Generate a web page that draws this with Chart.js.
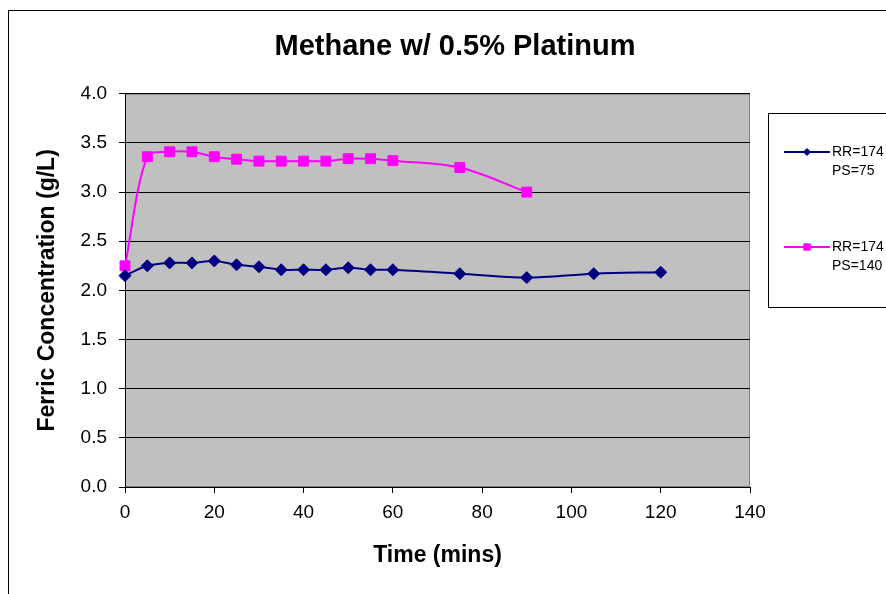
<!DOCTYPE html>
<html>
<head>
<meta charset="utf-8">
<script src="https://cdn.jsdelivr.net/npm/chart.js@4"></script>
<style>
  html, body { margin: 0; padding: 0; background: #fff; }
</style>
</head>
<body>
<canvas id="chart" width="886" height="594"></canvas>
<script>
// data
const timeMins = [0, 5, 10, 15, 20, 25, 30, 35, 40, 45, 50, 55, 60, 75, 90, 105, 120];
const ps75 = [2.15, 2.25, 2.28, 2.28, 2.30, 2.26, 2.24, 2.21, 2.21, 2.21, 2.23, 2.21, 2.21, 2.17, 2.13, 2.17, 2.185];
const ps140 = [2.25, 3.36, 3.41, 3.41, 3.36, 3.335, 3.315, 3.315, 3.315, 3.315, 3.34, 3.34, 3.32, 3.25, 3.00];
const seriesLabels = [['RR=174', 'PS=75'], ['RR=174', 'PS=140']];
const xTicks = [0, 20, 40, 60, 80, 100, 120, 140];
const yTicks = [0, 0.5, 1.0, 1.5, 2.0, 2.5, 3.0, 3.5, 4.0];

const FONT = '"Liberation Sans", Arial, sans-serif';
Chart.defaults.font.family = FONT;
Chart.defaults.color = '#000';

function toPoints(values) {
    return values.map((v, i) => ({ x: timeMins[i], y: v }));
}

// white page, outer chart border, grey plot area
const plotBackground = {
    id: 'plotBackground',
    beforeDraw(chart) {
        const { ctx, chartArea: a } = chart;
        ctx.save();
        ctx.fillStyle = '#fff';
        ctx.fillRect(0, 0, chart.width, chart.height);
        ctx.strokeStyle = '#000';
        ctx.lineWidth = 1;
        ctx.strokeRect(8.5, 10.5, 1000, 1000);
        ctx.fillStyle = '#C0C0C0';
        ctx.fillRect(a.left, a.top, a.right - a.left, a.bottom - a.top);
        ctx.strokeStyle = '#808080';
        ctx.strokeRect(a.left + 0.5, a.top + 0.5, a.right - a.left - 1, a.bottom - a.top - 1);
        ctx.restore();
    }
};

// boxed legend on the right, two-line labels
const boxLegend = {
    id: 'boxLegend',
    afterDraw(chart) {
        const { ctx } = chart;
        const rows = [152, 247];
        ctx.save();
        ctx.strokeStyle = '#000';
        ctx.lineWidth = 1;
        ctx.strokeRect(768.5, 113.5, 200, 194);
        chart.data.datasets.forEach((ds, i) => {
            const y = rows[i];
            ctx.strokeStyle = ds.borderColor;
            ctx.lineWidth = 2;
            ctx.beginPath();
            ctx.moveTo(784, y);
            ctx.lineTo(830, y);
            ctx.stroke();
            ctx.fillStyle = ds.pointBackgroundColor;
            ctx.strokeStyle = ds.pointBorderColor;
            ctx.lineWidth = 1;
            Chart.helpers.drawPoint(ctx, {
                pointStyle: ds.pointStyle,
                radius: ds.pointStyle === 'rect' ? 4.5 : 3.5,
                borderWidth: 1
            }, 807, y);
            ctx.fillStyle = '#000';
            ctx.font = '14px ' + FONT;
            ctx.textAlign = 'left';
            ctx.textBaseline = 'middle';
            ds.label.forEach((line, j) => ctx.fillText(line, 832, y + j * 19.5));
        });
        ctx.restore();
    }
};

const chart = new Chart(document.getElementById('chart'), {
    type: 'line',
    data: {
        datasets: [
            {
                label: seriesLabels[0],
                data: toPoints(ps75),
                borderColor: '#000080',
                borderWidth: 2,
                pointStyle: 'rectRot',
                pointRadius: 6,
                pointBackgroundColor: '#000080',
                pointBorderColor: '#000080',
                pointBorderWidth: 1,
                tension: 0.33
            },
            {
                label: seriesLabels[1],
                data: toPoints(ps140),
                borderColor: '#FF00FF',
                borderWidth: 2,
                pointStyle: 'rect',
                pointRadius: 7,
                pointBackgroundColor: '#FF00FF',
                pointBorderColor: '#FF00FF',
                pointBorderWidth: 1,
                tension: 0.33
            }
        ]
    },
    options: {
        responsive: false,
        animation: false,
        clip: false,
        layout: { padding: { left: 24, right: 0, top: 0, bottom: 0 } },
        plugins: {
            legend: { display: false },
            tooltip: { enabled: false },
            title: {
                display: true,
                text: 'Methane w/ 0.5% Platinum',
                color: '#000',
                font: { size: 29, weight: 'bold' },
                padding: { top: 30, bottom: 29 }
            }
        },
        scales: {
            x: {
                type: 'linear',
                min: 0,
                max: 140,
                afterBuildTicks: (s) => { s.ticks = xTicks.map(v => ({ value: v })); },
                afterFit: (s) => { s.height = 107; },
                grid: { drawOnChartArea: false, tickLength: 6, tickColor: '#000' },
                border: { color: '#000', width: 1 },
                ticks: { font: { size: 19 }, padding: 8, maxRotation: 0 },
                title: {
                    display: true,
                    text: 'Time (mins)',
                    font: { size: 23, weight: 'bold' },
                    padding: { top: 0, bottom: 25 }
                }
            },
            y: {
                min: 0,
                max: 4,
                afterBuildTicks: (s) => { s.ticks = yTicks.map(v => ({ value: v })); },
                afterFit: (s) => { s.width = 101; },
                grid: { color: '#000', lineWidth: 1, tickLength: 6, tickColor: '#000' },
                border: { color: '#000', width: 1 },
                ticks: {
                    font: { size: 19 },
                    padding: 12,
                    callback: (v) => Number(v).toFixed(1)
                },
                title: {
                    display: true,
                    text: 'Ferric Concentration (g/L)',
                    font: { size: 23, weight: 'bold' },
                    padding: { top: 10, bottom: 0 }
                }
            },
            // empty right-hand axis that reserves room for the legend box
            yRight: {
                position: 'right',
                display: true,
                afterFit: (s) => { s.width = 136; },
                grid: { display: false },
                border: { display: false },
                ticks: { display: false }
            }
        }
    },
    plugins: [plotBackground, boxLegend]
});
</script>
</body>
</html>
